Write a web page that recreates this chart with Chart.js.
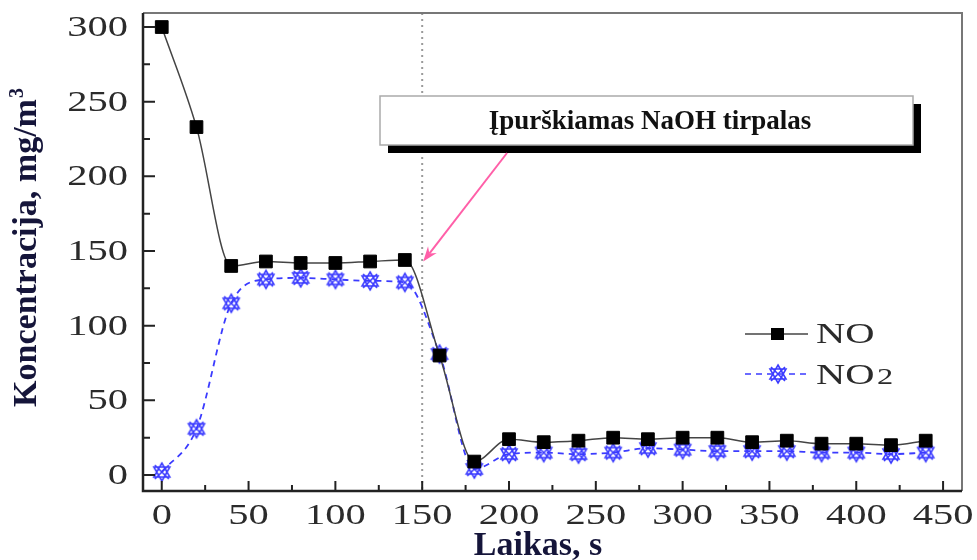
<!DOCTYPE html>
<html>
<head>
<meta charset="utf-8">
<script src="https://cdn.jsdelivr.net/npm/chart.js@4.4.1/dist/chart.umd.min.js"></script>
<style>
  html, body { margin: 0; padding: 0; background: #fff; }
  #wrap { width: 977px; height: 560px; position: relative; }
</style>
</head>
<body>
<div id="wrap"><canvas id="chart" width="977" height="560"></canvas></div>
<script>
// data
const times = [0, 20, 40, 60, 80, 100, 120, 140, 160, 180, 200, 220, 240, 260, 280, 300, 320, 340, 360, 380, 400, 420, 440];
const noValues = [300, 233, 140, 143, 142, 142, 143, 144, 80, 9, 24, 22, 23, 25, 24, 25, 25, 22, 23, 21, 21, 20, 23];
const no2Values = [2, 31, 115, 131, 132, 131, 130, 129, 81, 4, 14, 15, 14, 15, 18, 17, 16, 16, 16, 15, 15, 14, 15];
const xTicks = [0, 50, 100, 150, 200, 250, 300, 350, 400, 450];
const yTicks = [0, 50, 100, 150, 200, 250, 300];
const seriesNames = ['NO', 'NO2'];
const noteText = 'Įpurškiamas NaOH tirpalas';
const noteTime = 150;
const xTitle = 'Laikas, s';
const yTitle = 'Koncentracija, mg/m';

const BLUE = '#3b3bff';
const SERIF = '"Liberation Serif", "Times New Roman", serif';
const STRETCH = 1.35;

// star-ish marker used for NO2
function makeStar(color) {
  const c = document.createElement('canvas');
  c.width = 24; c.height = 24;
  const g = c.getContext('2d');
  g.strokeStyle = color;
  g.lineWidth = 1.6;
  g.beginPath();
  g.moveTo(5, 5); g.lineTo(19, 19);
  g.moveTo(19, 5); g.lineTo(5, 19);
  g.moveTo(12, 3); g.lineTo(20, 17); g.lineTo(4, 17); g.closePath();
  g.moveTo(12, 21); g.lineTo(20, 7); g.lineTo(4, 7); g.closePath();
  g.stroke();
  return c;
}
const starImg = makeStar(BLUE);

function stretchText(ctx, text, x, y, align) {
  ctx.save();
  ctx.translate(x, y);
  ctx.scale(STRETCH, 1);
  ctx.textAlign = align;
  ctx.fillText(text, 0, 0);
  ctx.restore();
}

const decor = {
  id: 'decor',
  beforeDatasetsDraw(chart) {
    const { ctx, chartArea: a, scales: { x } } = chart;
    const px = x.getPixelForValue(noteTime);
    ctx.save();
    ctx.strokeStyle = '#9a9a9a';
    ctx.lineWidth = 2;
    ctx.setLineDash([2, 4]);
    ctx.beginPath();
    ctx.moveTo(px, a.top);
    ctx.lineTo(px, a.bottom);
    ctx.stroke();
    ctx.restore();
  },
  afterDraw(chart) {
    const { ctx, chartArea: a, scales: { x, y } } = chart;
    ctx.save();

    // frame
    ctx.lineWidth = 2;
    ctx.strokeStyle = '#777';
    ctx.beginPath();
    ctx.moveTo(a.left, a.top); ctx.lineTo(a.right, a.top); ctx.lineTo(a.right, a.bottom);
    ctx.stroke();
    ctx.strokeStyle = '#222';
    ctx.lineWidth = 2.5;
    ctx.beginPath();
    ctx.moveTo(a.left, a.top); ctx.lineTo(a.left, a.bottom); ctx.lineTo(a.right, a.bottom);
    ctx.stroke();

    // inward ticks
    ctx.lineWidth = 2;
    ctx.beginPath();
    yTicks.forEach((v, i) => {
      const py = y.getPixelForValue(v);
      ctx.moveTo(a.left, py); ctx.lineTo(a.left + 12, py);
      if (i < yTicks.length - 1) {
        const pm = y.getPixelForValue(v + 25);
        ctx.moveTo(a.left, pm); ctx.lineTo(a.left + 7, pm);
      }
    });
    xTicks.forEach((v, i) => {
      const px = x.getPixelForValue(v);
      ctx.moveTo(px, a.bottom); ctx.lineTo(px, a.bottom - 10);
      if (i < xTicks.length - 1) {
        const pm = x.getPixelForValue(v + 25);
        ctx.moveTo(pm, a.bottom); ctx.lineTo(pm, a.bottom - 6);
      }
    });
    ctx.stroke();

    // tick labels
    ctx.fillStyle = '#2b2b2b';
    ctx.font = '30px ' + SERIF;
    ctx.textBaseline = 'middle';
    yTicks.forEach(v => stretchText(ctx, String(v), 128, y.getPixelForValue(v) + 1, 'right'));
    ctx.textBaseline = 'alphabetic';
    xTicks.forEach(v => stretchText(ctx, String(v), x.getPixelForValue(v), 524, 'center'));

    // axis titles
    ctx.fillStyle = '#15153a';
    ctx.font = 'bold 34px ' + SERIF;
    ctx.textAlign = 'center';
    ctx.fillText(xTitle, 538, 555);

    ctx.save();
    ctx.translate(36, 248);
    ctx.rotate(-Math.PI / 2);
    ctx.font = 'bold 34px ' + SERIF;
    const w1 = ctx.measureText(yTitle).width;
    ctx.font = 'bold 20px ' + SERIF;
    const w2 = ctx.measureText('3').width;
    const start = -(w1 + w2) / 2;
    ctx.textAlign = 'left';
    ctx.font = 'bold 34px ' + SERIF;
    ctx.fillText(yTitle, start, 0);
    ctx.font = 'bold 20px ' + SERIF;
    ctx.fillText('3', start + w1 + 1, -13);
    ctx.restore();

    // legend
    ctx.lineWidth = 1.5;
    ctx.strokeStyle = '#444';
    ctx.beginPath();
    ctx.moveTo(745, 334); ctx.lineTo(808, 334);
    ctx.stroke();
    ctx.fillStyle = '#000';
    ctx.fillRect(771, 328, 13, 12);
    ctx.strokeStyle = BLUE;
    ctx.setLineDash([6, 5]);
    ctx.beginPath();
    ctx.moveTo(745, 374); ctx.lineTo(808, 374);
    ctx.stroke();
    ctx.setLineDash([]);
    ctx.drawImage(starImg, 766, 362);

    ctx.fillStyle = '#2b2b2b';
    ctx.font = '30px ' + SERIF;
    stretchText(ctx, seriesNames[0], 816, 343, 'left');
    stretchText(ctx, 'NO', 816, 384, 'left');
    ctx.font = '24px ' + SERIF;
    stretchText(ctx, seriesNames[1].slice(2), 877, 384, 'left');

    // annotation box with shadow
    ctx.fillStyle = '#000';
    ctx.fillRect(388, 104, 533, 49);
    ctx.fillStyle = '#fff';
    ctx.fillRect(380, 96, 533, 49);
    ctx.strokeStyle = '#aaa';
    ctx.lineWidth = 1.5;
    ctx.strokeRect(380, 96, 533, 49);
    ctx.fillStyle = '#111';
    ctx.font = 'bold 27px ' + SERIF;
    ctx.textAlign = 'center';
    ctx.fillText(noteText, 650, 129);

    // pink arrow pointing to the NO curve
    const tx = x.getPixelForValue(noteTime) + 1;
    const ty = y.getPixelForValue(143);
    const sx = 507, sy = 153;
    const ang = Math.atan2(ty - sy, tx - sx);
    ctx.strokeStyle = '#ff5fa8';
    ctx.fillStyle = '#ff5fa8';
    ctx.lineWidth = 2;
    ctx.beginPath();
    ctx.moveTo(sx, sy);
    ctx.lineTo(tx - 10 * Math.cos(ang), ty - 10 * Math.sin(ang));
    ctx.stroke();
    ctx.beginPath();
    ctx.moveTo(tx, ty);
    ctx.lineTo(tx - 16 * Math.cos(ang - 0.35), ty - 16 * Math.sin(ang - 0.35));
    ctx.lineTo(tx - 10 * Math.cos(ang), ty - 10 * Math.sin(ang));
    ctx.lineTo(tx - 16 * Math.cos(ang + 0.35), ty - 16 * Math.sin(ang + 0.35));
    ctx.closePath();
    ctx.fill();

    ctx.restore();
  }
};

const toPoints = vals => vals.map((v, i) => ({ x: times[i], y: v }));

new Chart(document.getElementById('chart'), {
  type: 'line',
  data: {
    datasets: [{
      label: seriesNames[0],
      data: toPoints(noValues),
      borderColor: '#444',
      borderWidth: 1.5,
      cubicInterpolationMode: 'monotone',
      pointStyle: 'rect',
      pointRadius: 9,
      pointBackgroundColor: '#000',
      pointBorderColor: '#000',
      pointBorderWidth: 1
    }, {
      label: seriesNames[1],
      data: toPoints(no2Values),
      borderColor: BLUE,
      borderWidth: 1.8,
      borderDash: [6, 5],
      cubicInterpolationMode: 'monotone',
      pointStyle: starImg,
      pointRadius: 10
    }]
  },
  options: {
    responsive: false,
    animation: false,
    devicePixelRatio: 1,
    layout: { padding: { left: 143, right: 15, top: 13, bottom: 69 } },
    plugins: { legend: { display: false }, tooltip: { enabled: false } },
    scales: {
      x: { type: 'linear', min: -10.8, max: 460.9, display: false },
      y: { type: 'linear', min: -10.7, max: 309.4, display: false }
    }
  },
  plugins: [decor]
});
</script>
</body>
</html>
